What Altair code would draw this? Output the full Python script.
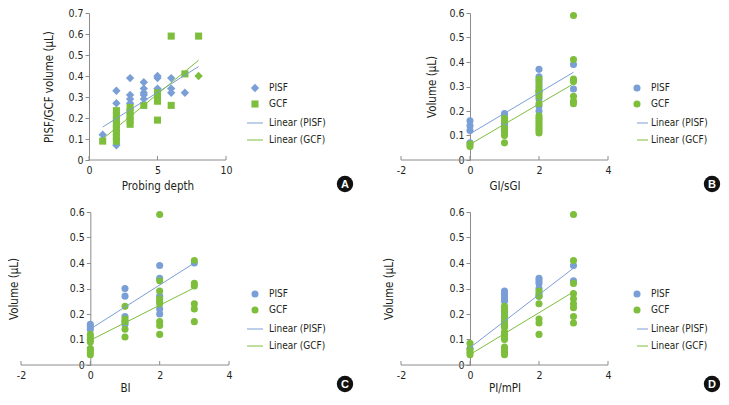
import altair as alt
import pandas as pd

BLUE = "#7a9ed6"
GREEN = "#7dbe3c"
AXIS_GREY = "#8c8c8c"
TEXT = "#231f20"
FONT = "Liberation Sans Narrow, DejaVu Sans Condensed, Roboto, sans-serif"

SERIES = ["PISF", "GCF"]
TRENDS = ["Linear (PISF)", "Linear (GCF)"]

# ---------------- Panel A : probing depth ----------------
a_pisf_x = [1, 2, 2, 2, 3, 3, 3, 3, 4, 4, 4, 4, 4, 5, 5, 5, 6, 6, 6, 7]
a_pisf_y = [0.12, 0.33, 0.27, 0.07, 0.39, 0.31, 0.29, 0.27, 0.37, 0.34, 0.32, 0.31, 0.29,
            0.40, 0.39, 0.34, 0.39, 0.34, 0.32, 0.32]
# PISF point drawn in green in the original figure
a_pisf_green_x = [8]
a_pisf_green_y = [0.40]
a_gcf_x = [1, 2, 2, 2, 2, 2, 2, 2, 2, 3, 3, 3, 3, 3, 4, 5, 5, 5, 5, 6, 6, 7, 8]
a_gcf_y = [0.09, 0.09, 0.11, 0.13, 0.15, 0.17, 0.19, 0.21, 0.235, 0.17, 0.19, 0.21, 0.23, 0.25,
           0.26, 0.32, 0.30, 0.28, 0.19, 0.59, 0.26, 0.41, 0.59]
a_trend_x = [1, 8]
a_trend_pisf = [0.157, 0.445]
a_trend_gcf = [0.100, 0.475]
a_x_ticks = [0, 5, 10]
a_y_ticks = [0, 0.1, 0.2, 0.3, 0.4, 0.5, 0.6, 0.7]

# ---------------- Panel B : GI/sGI ----------------
b_pisf_x = [0, 0, 0, 0, 1, 1, 1, 1, 2, 2, 2, 2, 2, 2, 2, 2, 3, 3]
b_pisf_y = [0.16, 0.14, 0.12, 0.07, 0.19, 0.18, 0.15, 0.14, 0.37, 0.34, 0.32, 0.30, 0.28, 0.25,
            0.22, 0.20, 0.39, 0.29]
b_gcf_x = [0, 0, 1, 1, 1, 1, 1, 1, 1, 2, 2, 2, 2, 2, 2, 2, 2, 2, 2, 2, 2, 2, 2, 2,
           3, 3, 3, 3, 3, 3, 3]
b_gcf_y = [0.065, 0.055, 0.17, 0.16, 0.13, 0.12, 0.11, 0.10, 0.07,
           0.33, 0.31, 0.29, 0.28, 0.27, 0.26, 0.23, 0.18, 0.17, 0.16, 0.15, 0.14, 0.13, 0.12, 0.11,
           0.59, 0.41, 0.33, 0.32, 0.26, 0.24, 0.23]
b_trend_x = [0, 3]
b_trend_pisf = [0.107, 0.358]
b_trend_gcf = [0.064, 0.311]

# ---------------- Panel C : BI ----------------
c_pisf_x = [0, 0, 0, 1, 1, 1, 1, 1, 2, 2, 2, 2, 2, 3]
c_pisf_y = [0.16, 0.15, 0.14, 0.30, 0.27, 0.19, 0.17, 0.16, 0.39, 0.34, 0.27, 0.22, 0.20, 0.40]
c_gcf_x = [0, 0, 0, 0, 0, 0, 0, 0, 1, 1, 1, 1, 1, 2, 2, 2, 2, 2, 2, 2, 2, 2, 3, 3, 3, 3, 3, 3]
c_gcf_y = [0.12, 0.11, 0.10, 0.09, 0.065, 0.06, 0.05, 0.04, 0.23, 0.18, 0.17, 0.14, 0.11,
           0.59, 0.33, 0.29, 0.26, 0.25, 0.24, 0.17, 0.155, 0.12,
           0.41, 0.32, 0.31, 0.24, 0.22, 0.17]
c_trend_x = [0, 3]
c_trend_pisf = [0.141, 0.400]
c_trend_gcf = [0.097, 0.303]

# ---------------- Panel D : PI/mPI ----------------
d_pisf_x = [0, 1, 1, 1, 1, 1, 1, 1, 1, 2, 2, 2, 2, 2, 3, 3]
d_pisf_y = [0.065, 0.29, 0.28, 0.27, 0.26, 0.25, 0.20, 0.18, 0.15, 0.34, 0.33, 0.32, 0.30, 0.27,
            0.39, 0.33]
d_gcf_x = [0, 0, 0, 0] + [1] * 15 + [2] * 7 + [3] * 9
d_gcf_y = [0.085, 0.06, 0.05, 0.04,
           0.23, 0.22, 0.21, 0.19, 0.17, 0.16, 0.15, 0.13, 0.12, 0.11, 0.10, 0.07, 0.06, 0.05, 0.04,
           0.29, 0.28, 0.27, 0.24, 0.18, 0.165, 0.12,
           0.59, 0.41, 0.32, 0.28, 0.26, 0.24, 0.225, 0.19, 0.165]
d_trend_x = [0, 3]
d_trend_pisf = [0.068, 0.380]
d_trend_gcf = [0.041, 0.287]

bcd_x_ticks = [-2, 0, 2, 4]
bcd_y_ticks = [0, 0.1, 0.2, 0.3, 0.4, 0.5, 0.6]


def points_frame(px, py, gx, gy, ox=(), oy=()):
    rows = [{"x": x, "y": y, "series": "PISF", "odd": False} for x, y in zip(px, py)]
    rows += [{"x": x, "y": y, "series": "PISF", "odd": True} for x, y in zip(ox, oy)]
    rows += [{"x": x, "y": y, "series": "GCF", "odd": False} for x, y in zip(gx, gy)]
    return pd.DataFrame(rows)


def trend_frame(tx, tp, tg):
    rows = [{"x": x, "y": y, "trend": TRENDS[0]} for x, y in zip(tx, tp)]
    rows += [{"x": x, "y": y, "trend": TRENDS[1]} for x, y in zip(tx, tg)]
    return pd.DataFrame(rows)


def legend_layers(leg, shapes, sizes):
    """Legend drawn as small annotation layers placed in pixels beside the plot."""
    sym_x, lab_x, ln_x1, ln_x2, rows = leg
    out = []
    for i, (name, col) in enumerate(zip(SERIES, [BLUE, GREEN])):
        df = pd.DataFrame({"label": [name]})
        out.append(alt.Chart(df).mark_point(filled=True, opacity=1, shape=shapes[i],
                                            size=sizes[i], color=col).encode(
            x=alt.value(sym_x), y=alt.value(rows[i])))
        out.append(alt.Chart(df).mark_text(align="left", baseline="middle", font=FONT,
                                           fontSize=10, color=TEXT).encode(
            x=alt.value(lab_x), y=alt.value(rows[i]), text="label:N"))
    for j, (name, col) in enumerate(zip(TRENDS, [BLUE, GREEN])):
        df = pd.DataFrame({"label": [name]})
        out.append(alt.Chart(df).mark_rule(color=col, strokeWidth=1).encode(
            x=alt.value(ln_x1), x2=alt.value(ln_x2), y=alt.value(rows[2 + j])))
        out.append(alt.Chart(df).mark_text(align="left", baseline="middle", font=FONT,
                                           fontSize=10, color=TEXT).encode(
            x=alt.value(lab_x), y=alt.value(rows[2 + j]), text="label:N"))
    return out


def panel(pts, trends, letter, xdom, xticks, axis_extent, ymax, yticks, width, height,
          yaxis_off, xtitle, xtitle_x, xtitle_pad, ytitle, ytitle_pad, shapes, sizes, leg, badge):
    xscale = alt.Scale(domain=xdom, nice=False, zero=False)
    yscale = alt.Scale(domain=[0, ymax], nice=False)
    xaxis_kw = dict(values=xticks, title=xtitle, ticks=False, tickSize=0,
                    labelPadding=5, titlePadding=xtitle_pad, labelFlush=False,
                    labelOverlap=False, domain=False, labelExpr="'' + datum.value")
    if xtitle_x is not None:
        xaxis_kw["titleX"] = xtitle_x
        xaxis_kw["titleAlign"] = "center"
    x_enc = alt.X("x:Q", scale=xscale, axis=alt.Axis(**xaxis_kw))
    y_enc = alt.Y("y:Q", scale=yscale,
                  axis=alt.Axis(values=yticks, title=ytitle, offset=yaxis_off,
                                titlePadding=ytitle_pad, tickSize=4, labelPadding=2,
                                format=".1~f", labelFlush=False, labelOverlap=False))

    points = alt.Chart(pts).mark_point(filled=True, opacity=1).encode(
        x=x_enc, y=y_enc,
        color=alt.condition("datum.odd", alt.value(GREEN),
                            alt.Color("series:N", scale=alt.Scale(domain=SERIES, range=[BLUE, GREEN]),
                                      legend=None)),
        shape=alt.Shape("series:N", scale=alt.Scale(domain=SERIES, range=shapes), legend=None),
        size=alt.Size("series:N", scale=alt.Scale(domain=SERIES, range=sizes), legend=None),
    )

    lines = alt.Chart(trends).mark_line(strokeWidth=1).encode(
        x=x_enc, y=y_enc,
        stroke=alt.Stroke("trend:N", scale=alt.Scale(domain=TRENDS, range=[BLUE, GREEN]),
                          legend=None),
    )

    axis_df = pd.DataFrame({"x": [axis_extent[0]], "x2": [axis_extent[1]]})
    xaxis_line = alt.Chart(axis_df).mark_rule(color=AXIS_GREY, strokeWidth=1).encode(
        x=x_enc, x2="x2:Q", y=alt.value(height))

    tick_df = pd.DataFrame({"x": xticks})
    inner_ticks = alt.Chart(tick_df).mark_rule(color=AXIS_GREY, strokeWidth=1).encode(
        x=x_enc, y=alt.value(height - 4), y2=alt.value(height))

    badge_df = pd.DataFrame({"letter": [letter]})
    badge_dot = alt.Chart(badge_df).mark_point(filled=True, shape="circle", size=270,
                                               color="#111111", opacity=1).encode(
        x=alt.value(badge[0]), y=alt.value(badge[1]))
    badge_txt = alt.Chart(badge_df).mark_text(color="white", font="Liberation Sans",
                                              fontWeight="bold", fontSize=11, dy=0.5).encode(
        x=alt.value(badge[0]), y=alt.value(badge[1]), text="letter:N")

    layers = [xaxis_line, inner_ticks, points, lines] + legend_layers(leg, shapes, sizes) + \
        [badge_dot, badge_txt]
    return alt.layer(*layers).properties(width=width, height=height)


H1 = 147
H2 = 153
ROWS1 = [75, 91, 110, 127]
ROWS2 = [82, 98, 117, 134]

A = panel(points_frame(a_pisf_x, a_pisf_y, a_gcf_x, a_gcf_y, a_pisf_green_x, a_pisf_green_y),
          trend_frame(a_trend_x, a_trend_pisf, a_trend_gcf), "A",
          [-4.9635, 10], a_x_ticks, [0, 10], 0.7, a_y_ticks, 205, H1, -68,
          "Probing depth", 136.5, 5, "PISF/GCF volume (μL)", 13,
          ["diamond", "square"], [70, 50],
          (234, 248, 226, 242, ROWS1), (324, 171))
B = panel(points_frame(b_pisf_x, b_pisf_y, b_gcf_x, b_gcf_y),
          trend_frame(b_trend_x, b_trend_pisf, b_trend_gcf), "B",
          [-2, 4], bcd_x_ticks, [-2, 4], 0.6, bcd_y_ticks, 207, H1, -69,
          "GI/sGI", None, 5, "Volume (μL)", 11,
          ["circle", "circle"], [50, 50],
          (236, 250, 236, 247, ROWS1), (311, 171))
C = panel(points_frame(c_pisf_x, c_pisf_y, c_gcf_x, c_gcf_y),
          trend_frame(c_trend_x, c_trend_pisf, c_trend_gcf), "C",
          [-2, 4], bcd_x_ticks, [-2, 4], 0.6, bcd_y_ticks, 208, H2, -69.33,
          "BI", None, 2, "Volume (μL)", 50,
          ["circle", "circle"], [50, 50],
          (234, 248, 226, 242, ROWS2), (324, 172))
D = panel(points_frame(d_pisf_x, d_pisf_y, d_gcf_x, d_gcf_y),
          trend_frame(d_trend_x, d_trend_pisf, d_trend_gcf), "D",
          [-2, 4], bcd_x_ticks, [-2, 4], 0.6, bcd_y_ticks, 207, H2, -69,
          "PI/mPI", None, 2, "Volume (μL)", 54,
          ["circle", "circle"], [50, 50],
          (236, 250, 236, 247, ROWS2), (311, 172))

chart = alt.concat(A, B, C, D, columns=2, spacing={"row": 52, "column": 172},
                   bounds="flush", align="each").resolve_scale(
    x="independent", y="independent", color="independent", shape="independent",
    stroke="independent", size="independent"
).configure_view(stroke=None).configure_axis(
    grid=False, domainColor=AXIS_GREY, domainWidth=1, tickColor=AXIS_GREY,
    labelFont=FONT, labelFontSize=10.5, labelColor=TEXT,
    titleFont=FONT, titleFontSize=11.5, titleFontWeight="normal", titleColor=TEXT
).properties(padding=0)

chart.save("out.html", embed_options={"renderer": "svg", "actions": False})
